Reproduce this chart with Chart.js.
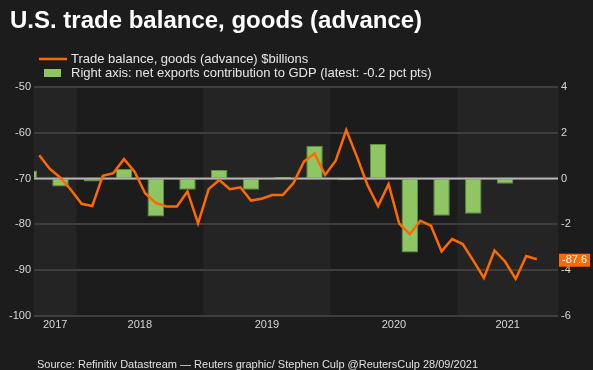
<!DOCTYPE html>
<html><head><meta charset="utf-8">
<script src="https://cdn.jsdelivr.net/npm/chart.js@4/dist/chart.umd.min.js"></script>
<style>html,body{margin:0;padding:0;background:#1c1c1c;}canvas{display:block;}</style>
</head><body>
<canvas id="c" width="593" height="370"></canvas>
<script>
// ---- Data ----
const tradeMonths = [
  '2017-09','2017-10','2017-11','2017-12',
  '2018-01','2018-02','2018-03','2018-04','2018-05','2018-06','2018-07','2018-08','2018-09','2018-10','2018-11','2018-12',
  '2019-01','2019-02','2019-03','2019-04','2019-05','2019-06','2019-07','2019-08','2019-09','2019-10','2019-11','2019-12',
  '2020-01','2020-02','2020-03','2020-04','2020-05','2020-06','2020-07','2020-08','2020-09','2020-10','2020-11','2020-12',
  '2021-01','2021-02','2021-03','2021-04','2021-05','2021-06','2021-07','2021-08'
];
const tradeBalance = [
  -64.9,-67.9,-69.8,-72.5,
  -75.5,-76.0,-69.4,-68.8,-65.7,-68.5,-73.2,-75.3,-76.1,-76.1,-72.8,-79.8,
  -72.3,-70.3,-72.3,-71.9,-74.8,-74.4,-73.6,-73.6,-71.0,-66.3,-64.5,-69.2,
  -66.1,-59.4,-65.2,-71.4,-76.0,-71.2,-79.8,-82.1,-79.2,-80.3,-85.9,-83.2,
  -84.3,-87.9,-91.7,-85.7,-88.1,-91.9,-86.9,-87.6
];
const quarters = ['2017-Q3','2017-Q4','2018-Q1','2018-Q2','2018-Q3','2018-Q4','2019-Q1','2019-Q2',
                  '2019-Q3','2019-Q4','2020-Q1','2020-Q2','2020-Q3','2020-Q4','2021-Q1','2021-Q2'];
const netExports = [0.35,-0.35,-0.13,0.42,-1.66,-0.49,0.38,-0.49,0.07,1.43,-0.07,1.51,-3.23,-1.62,-1.54,-0.22];
const yearLabels = ['2017','2018','2019','2020','2021'];
const leftRange = [-100, -50];
const rightRange = [-6, 4];

const titleText = 'U.S. trade balance, goods (advance)';
const legendLine = 'Trade balance, goods (advance) $billions';
const legendBar = 'Right axis: net exports contribution to GDP (latest: -0.2 pct pts)';
const footerText = 'Source: Refinitiv Datastream \u2014 Reuters graphic/ Stephen Culp @ReutersCulp 28/09/2021';

// ---- helpers: time position in months since Jan 2017 ----
const BASE_YEAR = 2017;
const X_MIN = 8, X_MAX = 57.5;
function monthPos(s){ const [y,m]=s.split('-').map(Number); return (y-BASE_YEAR)*12 + (m-1) + 0.5; }
function quarterPos(s){ const [y,q]=s.split('-Q').map(Number); return (y-BASE_YEAR)*12 + (q-1)*3 + 1.5; }
function yearSpan(label){ const y=Number(label); const a=Math.max((y-BASE_YEAR)*12, X_MIN); const b=Math.min((y-BASE_YEAR)*12+12, X_MAX); return [a,b]; }

const FONT = '"Liberation Sans", Arial, sans-serif';
const BG = '#1c1c1c', BAND = '#242424';
const ORANGE = '#ff6a00';

const decor = {
  id: 'decor',
  beforeDraw(chart){
    const {ctx, chartArea:ca, scales} = chart;
    ctx.save();
    ctx.fillStyle = BG; ctx.fillRect(0,0,chart.width,chart.height);
    yearLabels.forEach((l,i)=>{
      if(i%2!==0) return;
      const [a,b] = yearSpan(l);
      const x0 = scales.x.getPixelForValue(a), x1 = scales.x.getPixelForValue(b);
      ctx.fillStyle = BAND; ctx.fillRect(x0, ca.top, x1-x0, ca.bottom-ca.top);
    });
    // title
    ctx.fillStyle = '#ffffff'; ctx.font = 'bold 24px '+FONT; ctx.textBaseline='alphabetic'; ctx.textAlign='left';
    ctx.fillText(titleText, 10, 28);
    // legend
    ctx.strokeStyle = ORANGE; ctx.lineWidth = 2.5;
    ctx.beginPath(); ctx.moveTo(39, 59); ctx.lineTo(67, 59); ctx.stroke();
    ctx.fillStyle = '#8dc663'; ctx.fillRect(44, 69, 17, 8);
    ctx.fillStyle = '#e6e6e6'; ctx.font = '13px '+FONT; ctx.textBaseline='middle';
    ctx.fillText(legendLine, 71, 59.5);
    ctx.fillText(legendBar, 71, 73.5);
    // footer
    ctx.font = '11px '+FONT; ctx.fillStyle = '#e0e0e0'; ctx.textBaseline='alphabetic';
    ctx.fillText(footerText, 37, 368);
    ctx.restore();
  },
  afterDatasetDraw(chart, args){
    if(args.meta.type !== 'bar') return;
    const {ctx, chartArea:ca, scales} = chart;
    const y = scales.y1.getPixelForValue(0);
    ctx.save(); ctx.strokeStyle = '#b4b4b4'; ctx.lineWidth = 2;
    ctx.beginPath(); ctx.moveTo(ca.left, y); ctx.lineTo(ca.right, y); ctx.stroke(); ctx.restore();
  },
  afterDraw(chart){
    const {ctx, chartArea:ca, scales} = chart;
    const last = tradeBalance[tradeBalance.length-1];
    const y = scales.y.getPixelForValue(last);
    ctx.save();
    ctx.font = '11px '+FONT;
    const txt = last.toFixed(1);
    const w = ctx.measureText(txt).width + 6;
    ctx.fillStyle = ORANGE; ctx.fillRect(ca.right+1, y-5.5, w, 13);
    ctx.fillStyle = '#ffffff'; ctx.textBaseline='middle'; ctx.textAlign='left';
    ctx.fillText(txt, ca.right+4, y+1);
    ctx.restore();
  }
};

new Chart(document.getElementById('c'), {
  data: {
    datasets: [
      {
        type: 'line', label: legendLine, yAxisID: 'y', order: 0,
        data: tradeMonths.map((m,i)=>({x: monthPos(m), y: tradeBalance[i]})),
        borderColor: ORANGE, borderWidth: 2.5, pointRadius: 0, tension: 0, fill: false
      },
      {
        type: 'bar', label: legendBar, yAxisID: 'y1', order: 1,
        data: quarters.map((q,i)=>({x: quarterPos(q), y: netExports[i]})),
        backgroundColor: '#8dc663', borderColor: '#5f8f3e', borderWidth: 1, borderSkipped: false,
        barPercentage: 0.52, categoryPercentage: 1
      }
    ]
  },
  options: {
    responsive: false, animation: false, devicePixelRatio: 1,
    layout: {padding: {top: 87, bottom: 34, left: 0, right: 0}},
    plugins: {legend: {display: false}, tooltip: {enabled: false}},
    scales: {
      x: {
        type: 'linear', min: X_MIN, max: X_MAX, offset: false,
        grid: {display: false, drawTicks: false}, border: {display: false},
        afterBuildTicks(s){ s.ticks = yearLabels.map(l=>{ const [a,b]=yearSpan(l); return {value:(a+b)/2}; }); },
        afterFit(s){ s.height = 20; },
        ticks: {autoSkip: false, maxRotation: 0, padding: 2, color: '#d8d8d8', font: {family: FONT, size: 11},
                callback: (v, i) => yearLabels[i]}
      },
      y: {
        position: 'left', min: leftRange[0], max: leftRange[1],
        afterFit(s){ s.width = 34; },
        grid: {color: '#3e3e3e', lineWidth: 2, drawTicks: false}, border: {display: false},
        ticks: {stepSize: 10, padding: 3, color: '#d8d8d8', font: {family: FONT, size: 11}}
      },
      y1: {
        position: 'right', min: rightRange[0], max: rightRange[1],
        afterFit(s){ s.width = 35; },
        grid: {display: false, drawTicks: false}, border: {display: false},
        ticks: {stepSize: 2, padding: 3, color: '#d8d8d8', font: {family: FONT, size: 11}}
      }
    }
  },
  plugins: [decor]
});
</script>
</body></html>
